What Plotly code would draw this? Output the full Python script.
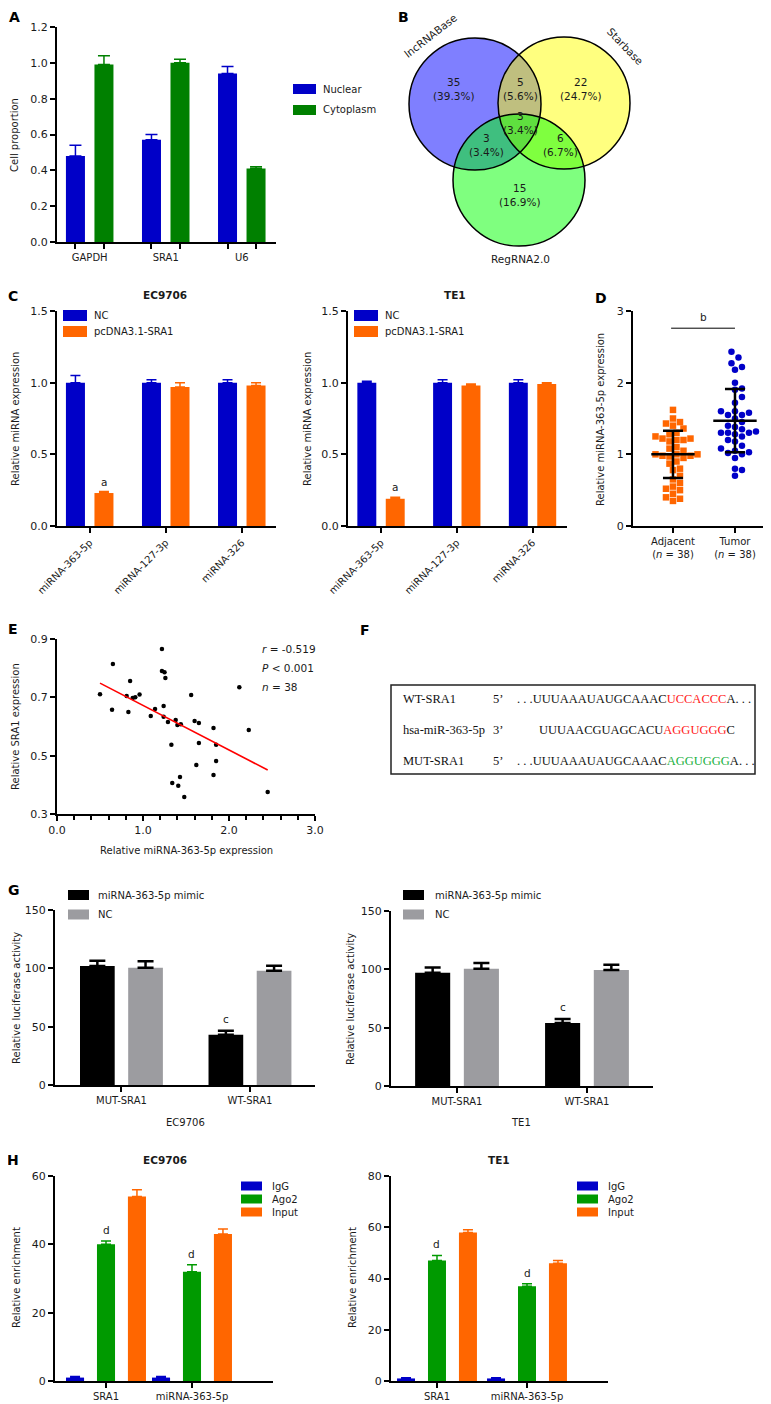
import numpy as np
import plotly.graph_objects as go

W, H = 771, 1404
SANS = "DejaVu Sans"
SERIF = "Liberation Serif"


def X(px):
    return px / W


def Y(py):
    return 1 - py / H


# ======================= DATA =======================
# A
a_categories = ["GAPDH", "SRA1", "U6"]
a_nuclear = [0.48, 0.57, 0.94]
a_nuclear_err = [0.06, 0.03, 0.04]
a_cytoplasm = [0.99, 1.00, 0.41]
a_cytoplasm_err = [0.05, 0.02, 0.01]

# B (Venn)
venn_sets = ["lncRNABase", "Starbase", "RegRNA2.0"]
venn_regions = ["L", "LS", "S", "LSR", "LR", "SR", "R"]
venn_counts = [35, 5, 22, 3, 3, 6, 15]
venn_percents = [39.3, 5.6, 24.7, 3.4, 3.4, 6.7, 16.9]

# C
c_categories = ["miRNA-363-5p", "miRNA-127-3p", "miRNA-326"]
c_series = ["NC", "pcDNA3.1-SRA1"]
c_ec_nc = [1.00, 1.00, 1.00]
c_ec_nc_err = [0.05, 0.02, 0.02]
c_ec_pc = [0.23, 0.97, 0.98]
c_ec_pc_err = [0.01, 0.03, 0.02]
c_te_nc = [1.00, 1.00, 1.00]
c_te_nc_err = [0.01, 0.02, 0.02]
c_te_pc = [0.19, 0.98, 0.99]
c_te_pc_err = [0.01, 0.01, 0.01]

# D
d_groups = ["Adjacent", "Tumor"]
d_adjacent = [1.62, 1.50, 1.45, 1.43, 1.40, 1.36, 1.30, 1.28, 1.25, 1.22,
              1.22, 1.20, 1.20, 1.18, 1.10, 1.08, 1.05, 1.00, 1.00, 1.00,
              0.98, 0.98, 0.97, 0.95, 0.90, 0.87, 0.80, 0.78, 0.70, 0.65,
              0.60, 0.55, 0.52, 0.50, 0.45, 0.40, 0.38, 0.35]
d_tumor = [2.43, 2.35, 2.27, 2.22, 2.18, 2.00, 1.92, 1.90, 1.80, 1.72,
           1.60, 1.60, 1.58, 1.55, 1.55, 1.50, 1.45, 1.40, 1.38, 1.35,
           1.32, 1.30, 1.30, 1.30, 1.28, 1.25, 1.20, 1.18, 1.12, 1.08,
           1.05, 1.03, 1.02, 1.00, 0.95, 0.80, 0.78, 0.70]
d_mean = [1.00, 1.47]
d_sd = [0.33, 0.44]
d_sig_y = 2.76

# E
e_mir = [0.50, 0.65, 0.85, 0.81, 0.88, 0.91, 0.96, 1.22, 1.22, 1.25,
         1.26, 1.56, 2.12, 0.64, 0.83, 1.14, 1.24, 1.09, 1.24, 1.29,
         1.38, 1.40, 1.44, 1.60, 1.65, 1.82, 2.23, 1.33, 1.65, 1.85,
         1.62, 1.85, 1.82, 1.43, 1.34, 1.41, 1.48, 2.45]
e_sra1 = [0.711, 0.814, 0.756, 0.705, 0.698, 0.700, 0.710, 0.866, 0.790, 0.786,
          0.766, 0.708, 0.735, 0.657, 0.650, 0.660, 0.670, 0.636, 0.633, 0.615,
          0.622, 0.605, 0.608, 0.619, 0.612, 0.595, 0.588, 0.537, 0.543, 0.537,
          0.468, 0.482, 0.434, 0.427, 0.406, 0.397, 0.358, 0.375]
e_fit_slope = -0.1528
e_fit_intercept = 0.825
e_stats = ["<i>r</i> = -0.519", "<i>P</i> < 0.001", "<i>n</i> = 38"]

# F
f_labels = ["WT-SRA1", "hsa-miR-363-5p", "MUT-SRA1"]
f_ends = ["5’", "3’", "5’"]
f_prefix = [". . .UUUAAAUAUGCAAAC", "UUUAACGUAGCACU", ". . .UUUAAAUAUGCAAAC"]
f_site = ["UCCACCC", "AGGUGGG", "AGGUGGG"]
f_suffix = ["A. . .", "C", "A. . ."]
f_site_colors = ["#FF2020", "#FF2020", "#20B040"]

# G
g_categories = ["MUT-SRA1", "WT-SRA1"]
g_series = ["miRNA-363-5p mimic", "NC"]
g_ec_mimic = [102, 43]
g_ec_mimic_err = [4.5, 3.4]
g_ec_nc = [100.5, 98]
g_ec_nc_err = [5.5, 4.3]
g_te_mimic = [97, 54]
g_te_mimic_err = [4.5, 3.5]
g_te_nc = [100.5, 99.5]
g_te_nc_err = [5.0, 4.5]

# H
h_categories = ["SRA1", "miRNA-363-5p"]
h_series = ["IgG", "Ago2", "Input"]
h_ec_igg = [1.0, 1.0]
h_ec_igg_err = [0.3, 0.3]
h_ec_ago2 = [40, 32]
h_ec_ago2_err = [1.0, 2.0]
h_ec_input = [54, 43]
h_ec_input_err = [2.0, 1.5]
h_te_igg = [1.0, 1.0]
h_te_igg_err = [0.3, 0.3]
h_te_ago2 = [47, 37]
h_te_ago2_err = [2.0, 1.0]
h_te_input = [58, 46]
h_te_input_err = [1.0, 1.0]

# ======================= STYLE =======================
BLUE = "#0000C8"
GREEN_A = "#008000"
GREEN_H = "#009A00"
ORANGE = "#FF6600"
GRAY = "#9C9CA0"
BLACK = "#000000"
TXT = "#1a1a1a"

fig = go.Figure()
shapes = []
annotations = []


def errbar(vals, color, w, th):
    return dict(type="data", array=list(vals), arrayminus=[0] * len(vals),
                symmetric=False, color=color, thickness=th, width=w, visible=True)


def add_bars(xa, ya, pos, vals, errs, color, width, ew, eth, ecolor=None):
    fig.add_trace(go.Bar(x=list(pos), y=vals, width=width,
                         marker=dict(color=color, line=dict(width=0)),
                         error_y=errbar(errs, ecolor or color, ew, eth),
                         xaxis=xa, yaxis=ya, showlegend=False, hoverinfo="skip"))


def text(xp, yp, t, size=10, bold=False, family=SANS, xanchor="center",
         yanchor="middle", angle=0, color=TXT):
    if bold:
        t = "<b>" + t + "</b>"
    annotations.append(dict(xref="paper", yref="paper", x=X(xp), y=Y(yp), text=t,
                            showarrow=False, xanchor=xanchor, yanchor=yanchor,
                            textangle=angle, font=dict(family=family, size=size, color=color)))


def legend_item(xb, yc, w, h, color, label, xt, size=10):
    shapes.append(dict(type="rect", xref="paper", yref="paper", x0=X(xb), x1=X(xb + w),
                       y0=Y(yc + h / 2), y1=Y(yc - h / 2), fillcolor=color, line=dict(width=0)))
    text(xt, yc, label, size=size, xanchor="left")


def ax(**kw):
    d = dict(showline=True, linecolor="black", linewidth=2, ticks="outside", ticklen=5,
             tickwidth=2, tickcolor="black", showgrid=False, zeroline=False,
             automargin=False, fixedrange=True,
             tickfont=dict(family=SANS, size=11, color=TXT))
    d.update(kw)
    return d


# ---------------- Panel A ----------------
a_pos = np.arange(len(a_categories))
A_OFF, A_W = 0.1875, 0.25
add_bars("x", "y", a_pos - A_OFF, a_nuclear, a_nuclear_err, BLUE, A_W, 6, 1.5)
add_bars("x", "y", a_pos + A_OFF, a_cytoplasm, a_cytoplasm_err, GREEN_A, A_W, 6, 1.5)
legend_item(285, 81, 23, 10, BLUE, "Nuclear", 313)
legend_item(285, 102, 23, 10, GREEN_A, "Cytoplasm", 313)
text(7, 127, "Cell proportion", angle=-90)

# ---------------- Panel B ----------------
venn_circles = {"L": (467, 96, 66, "rgb(0,0,255)"),
                "S": (556, 95, 66, "rgb(255,255,0)"),
                "R": (511, 172, 66, "rgb(0,255,0)")}
for key in ["L", "S", "R"]:
    cx, cy, r, col = venn_circles[key]
    shapes.append(dict(type="circle", xref="paper", yref="paper", x0=X(cx - r), x1=X(cx + r),
                       y0=Y(cy + r), y1=Y(cy - r), fillcolor=col, opacity=0.5,
                       line=dict(width=0), layer="above"))
for key in ["L", "S", "R"]:
    cx, cy, r, col = venn_circles[key]
    shapes.append(dict(type="circle", xref="paper", yref="paper", x0=X(cx - r), x1=X(cx + r),
                       y0=Y(cy + r), y1=Y(cy - r), fillcolor="rgba(0,0,0,0)",
                       line=dict(width=1.5, color="black"), layer="above"))
venn_text_pos = {"L": (446, 81), "LS": (512, 81), "S": (573, 81), "LSR": (512, 115),
                 "LR": (478, 137), "SR": (552, 137), "R": (512, 187)}
for reg, cnt, pct in zip(venn_regions, venn_counts, venn_percents):
    xp, yp = venn_text_pos[reg]
    text(xp, yp, f"{cnt}<br>({pct:.1f}%)", size=10.5)
text(422, 28, venn_sets[0], size=10.5, angle=-38)
text(617, 38, venn_sets[1], size=10.5, angle=46)
text(512, 251, venn_sets[2], size=10.5)

# ---------------- Panel C ----------------
c_pos = np.arange(len(c_categories))
add_bars("x2", "y2", c_pos - A_OFF, c_ec_nc, c_ec_nc_err, BLUE, A_W, 5, 1.5)
add_bars("x2", "y2", c_pos + A_OFF, c_ec_pc, c_ec_pc_err, ORANGE, A_W, 5, 1.5)
add_bars("x3", "y3", c_pos - A_OFF, c_te_nc, c_te_nc_err, BLUE, A_W, 5, 1.5)
add_bars("x3", "y3", c_pos + A_OFF, c_te_pc, c_te_pc_err, ORANGE, A_W, 5, 1.5)
for xa, ya, vals, errs in [("x2", "y2", c_ec_pc, c_ec_pc_err), ("x3", "y3", c_te_pc, c_te_pc_err)]:
    annotations.append(dict(xref=xa, yref=ya, x=c_pos[0] + A_OFF, y=vals[0] + errs[0], text="a",
                            showarrow=False, yanchor="bottom", yshift=2,
                            font=dict(family=SANS, size=10.5, color=TXT)))
legend_item(55, 307.5, 24, 11, BLUE, c_series[0], 84)
legend_item(55, 323.5, 24, 11, ORANGE, c_series[1], 84)
legend_item(346, 307.5, 24, 11, BLUE, c_series[0], 375)
legend_item(346, 323.5, 24, 11, ORANGE, c_series[1], 375)
text(157, 287, "EC9706", size=10.5, bold=True)
text(447, 287, "TE1", size=10.5, bold=True)
text(7, 411, "Relative miRNA expression", angle=-90)
text(299, 411, "Relative miRNA expression", angle=-90)


# ---------------- Panel D ----------------
def swarm(vals, y_ppu, x_ppu, step=7.0, mind=6.8):
    vals = np.asarray(vals, float)
    order = np.argsort(vals)
    placed = []
    offs = np.zeros(len(vals))
    cands = [0.0]
    for k in range(1, 30):
        cands += [k * step / 2, -k * step / 2]
    for i in order:
        yp = vals[i] * y_ppu
        for c in cands:
            if all((c - px) ** 2 + (yp - py) ** 2 >= mind ** 2 for px, py in placed):
                placed.append((c, yp))
                offs[i] = c / x_ppu
                break
    return offs


D_YPPU, D_XPPU = 215 / 3.0, 62.0
adj_off = swarm(d_adjacent, D_YPPU, D_XPPU)
tum_off = swarm(d_tumor, D_YPPU, D_XPPU)
fig.add_trace(go.Scatter(x=0 + adj_off, y=d_adjacent, mode="markers",
                         marker=dict(symbol="square", size=6.5, color=ORANGE),
                         xaxis="x4", yaxis="y4", showlegend=False, hoverinfo="skip"))
fig.add_trace(go.Scatter(x=1 + tum_off, y=d_tumor, mode="markers",
                         marker=dict(symbol="circle", size=6.5, color=BLUE),
                         xaxis="x4", yaxis="y4", showlegend=False, hoverinfo="skip"))
for gi, m in enumerate(d_mean):
    fig.add_trace(go.Scatter(x=[gi - 0.35, gi + 0.35], y=[m, m], mode="lines",
                             line=dict(color="black", width=2.5),
                             xaxis="x4", yaxis="y4", showlegend=False, hoverinfo="skip"))
fig.add_trace(go.Scatter(x=list(range(len(d_groups))), y=d_mean, mode="markers",
                         marker=dict(size=1, opacity=0),
                         error_y=dict(type="data", array=d_sd, color="black", thickness=2.5, width=10),
                         xaxis="x4", yaxis="y4", showlegend=False, hoverinfo="skip"))
shapes.append(dict(type="line", xref="x4", yref="y4", x0=-0.03, x1=1.0, y0=d_sig_y, y1=d_sig_y,
                   line=dict(color="black", width=1)))
annotations.append(dict(xref="x4", yref="y4", x=0.5, y=d_sig_y, text="b", showarrow=False,
                        yanchor="bottom", yshift=3, font=dict(family=SANS, size=10.5, color=TXT)))
text(593, 412, "Relative miRNA-363-5p expression", angle=-90)

# ---------------- Panel E ----------------
fig.add_trace(go.Scatter(x=e_mir, y=e_sra1, mode="markers",
                         marker=dict(size=4.5, color="black"),
                         xaxis="x5", yaxis="y5", showlegend=False, hoverinfo="skip"))
e_fit_x = np.array([min(e_mir), max(e_mir)])
fig.add_trace(go.Scatter(x=e_fit_x, y=e_fit_intercept + e_fit_slope * e_fit_x, mode="lines",
                         line=dict(color="#FF0000", width=1.6),
                         xaxis="x5", yaxis="y5", showlegend=False, hoverinfo="skip"))
for i, s in enumerate(e_stats):
    text(252, 641 + 19 * i, s, size=10.5, xanchor="left")
text(7, 719, "Relative SRA1 expression", angle=-90)
text(178, 842, "Relative miRNA-363-5p expression")

# ---------------- Panel F ----------------
shapes.append(dict(type="rect", xref="paper", yref="paper", x0=X(383), x1=X(747),
                   y0=Y(766), y1=Y(677), line=dict(color="#222", width=1.5),
                   fillcolor="rgba(0,0,0,0)"))
f_rows_y = [691, 722, 753]
f_seq_x = [507, 529, 507]
for i in range(3):
    text(393, f_rows_y[i], f_labels[i], size=12.5, family=SERIF, xanchor="left", color="#111")
    text(483, f_rows_y[i], f_ends[i], size=12.5, family=SERIF, xanchor="left", color="#111")
    seq = (f_prefix[i] + f"<span style='color:{f_site_colors[i]}'>" + f_site[i] + "</span>"
           + f_suffix[i])
    text(f_seq_x[i], f_rows_y[i], seq, size=12.5, family=SERIF, xanchor="left", color="#111")

# ---------------- Panel G ----------------
g_pos = np.arange(len(g_categories))
G_OFF, G_W = 0.1875, 0.27
add_bars("x6", "y6", g_pos - G_OFF, g_ec_mimic, g_ec_mimic_err, BLACK, G_W, 8, 2.5)
add_bars("x6", "y6", g_pos + G_OFF, g_ec_nc, g_ec_nc_err, GRAY, G_W, 8, 2.5, ecolor=BLACK)
add_bars("x7", "y7", g_pos - G_OFF, g_te_mimic, g_te_mimic_err, BLACK, G_W, 8, 2.5)
add_bars("x7", "y7", g_pos + G_OFF, g_te_nc, g_te_nc_err, GRAY, G_W, 8, 2.5, ecolor=BLACK)
for xa, ya, vals, errs in [("x6", "y6", g_ec_mimic, g_ec_mimic_err), ("x7", "y7", g_te_mimic, g_te_mimic_err)]:
    annotations.append(dict(xref=xa, yref=ya, x=g_pos[1] - G_OFF, y=vals[1] + errs[1], text="c",
                            showarrow=False, yanchor="bottom", yshift=4,
                            font=dict(family=SANS, size=10.5, color=TXT)))
legend_item(60, 887, 21, 10, BLACK, g_series[0], 88)
legend_item(60, 906.5, 21, 10, GRAY, g_series[1], 88)
legend_item(395, 887, 21, 10, BLACK, g_series[0], 425)
legend_item(395, 906.5, 21, 10, GRAY, g_series[1], 425)
text(8, 990, "Relative luciferase activity", angle=-90)
text(342, 991, "Relative luciferase activity", angle=-90)
text(177, 1114, "EC9706")
text(513, 1114, "TE1")

# ---------------- Panel H ----------------
h_pos = np.arange(len(h_categories))
H1_OFF, H1_W = 0.36, 0.21
H2_OFF, H2_W = 0.344, 0.20
add_bars("x8", "y8", h_pos - H1_OFF, h_ec_igg, h_ec_igg_err, BLUE, H1_W, 5, 1.5)
add_bars("x8", "y8", h_pos, h_ec_ago2, h_ec_ago2_err, GREEN_H, H1_W, 5, 1.5)
add_bars("x8", "y8", h_pos + H1_OFF, h_ec_input, h_ec_input_err, ORANGE, H1_W, 5, 1.5)
add_bars("x9", "y9", h_pos - H2_OFF, h_te_igg, h_te_igg_err, BLUE, H2_W, 5, 1.5)
add_bars("x9", "y9", h_pos, h_te_ago2, h_te_ago2_err, GREEN_H, H2_W, 5, 1.5)
add_bars("x9", "y9", h_pos + H2_OFF, h_te_input, h_te_input_err, ORANGE, H2_W, 5, 1.5)
for xa, ya, vals, errs in [("x8", "y8", h_ec_ago2, h_ec_ago2_err), ("x9", "y9", h_te_ago2, h_te_ago2_err)]:
    for k in range(len(h_categories)):
        annotations.append(dict(xref=xa, yref=ya, x=h_pos[k], y=vals[k] + errs[k], text="d",
                                showarrow=False, yanchor="bottom", yshift=3,
                                font=dict(family=SANS, size=10.5, color=TXT)))
for i, (lab, col) in enumerate(zip(h_series, [BLUE, GREEN_H, ORANGE])):
    legend_item(233, 1178 + 13 * i, 21, 9, col, lab, 262)
    legend_item(569, 1178 + 13 * i, 21, 9, col, lab, 598)
text(157, 1152, "EC9706", size=10.5, bold=True)
text(491, 1152, "TE1", size=10.5, bold=True)
text(8, 1270, "Relative enrichment", angle=-90)
text(344, 1270, "Relative enrichment", angle=-90)

# ---------------- Panel letters ----------------
for letter, xp, yp in [("A", 6, 9), ("B", 396, 9), ("C", 5, 288), ("D", 593, 290),
                       ("E", 5, 621), ("F", 357, 622), ("G", 6, 882), ("H", 5, 1152)]:
    text(xp, yp, letter, size=14, bold=True, color="black")

# ---------------- Layout ----------------
bar_ticks_3 = sorted(list(a_pos - A_OFF) + list(a_pos + A_OFF))
layout_axes = dict(
    xaxis=ax(domain=[X(49), X(268)], range=[-0.43, 2.45], anchor="y",
             tickvals=list(a_pos), ticktext=a_categories, tickcolor="rgba(0,0,0,0)",
             tickfont=dict(family=SANS, size=10, color=TXT),
             minor=dict(tickmode="array", tickvals=bar_ticks_3, ticks="outside",
                        ticklen=5, tickwidth=2, tickcolor="black")),
    yaxis=ax(domain=[Y(234), Y(19)], range=[0, 1.2], anchor="x", dtick=0.2, tick0=0,
             tickformat=".1f"),
    xaxis2=ax(domain=[X(49), X(268)], range=[-0.43, 2.45], anchor="y2",
              tickvals=list(c_pos), ticktext=c_categories, tickangle=-45,
              tickfont=dict(family=SANS, size=10, color=TXT)),
    yaxis2=ax(domain=[Y(518), Y(303)], range=[0, 1.5], anchor="x2", dtick=0.5, tick0=0,
              tickformat=".1f"),
    xaxis3=ax(domain=[X(340), X(559)], range=[-0.436, 2.455], anchor="y3",
              tickvals=list(c_pos), ticktext=c_categories, tickangle=-45,
              tickfont=dict(family=SANS, size=10, color=TXT)),
    yaxis3=ax(domain=[Y(518), Y(303)], range=[0, 1.5], anchor="x3", dtick=0.5, tick0=0,
              tickformat=".1f"),
    xaxis4=ax(domain=[X(625), X(762)], range=[-0.645, 1.565], anchor="y4",
              tickvals=[0, 1], ticktext=[g + "<br>(<i>n</i> = 38)" for g in d_groups],
              tickfont=dict(family=SANS, size=10, color=TXT)),
    yaxis4=ax(domain=[Y(518), Y(303)], range=[0, 3], anchor="x4", dtick=1, tick0=0),
    xaxis5=ax(domain=[X(49), X(307)], range=[0, 3], anchor="y5",
              tickvals=[0, 1, 2, 3], ticktext=["0.0", "1.0", "2.0", "3.0"],
              minor=dict(tickmode="linear", tick0=0, dtick=0.2, ticks="outside",
                         ticklen=4, tickwidth=2, tickcolor="black")),
    yaxis5=ax(domain=[Y(806), Y(631)], range=[0.3, 0.9], anchor="x5",
              tickvals=[0.3, 0.5, 0.7, 0.9], ticktext=["0.3", "0.5", "0.7", "0.9"]),
    xaxis6=ax(domain=[X(47), X(307)], range=[-0.517, 1.506], anchor="y6",
              tickvals=list(g_pos), ticktext=g_categories,
              tickfont=dict(family=SANS, size=10, color=TXT)),
    yaxis6=ax(domain=[Y(1077), Y(902)], range=[0, 150], anchor="x6", dtick=50, tick0=0),
    xaxis7=ax(domain=[X(383), X(645)], range=[-0.508, 1.508], anchor="y7",
              tickvals=list(g_pos), ticktext=g_categories,
              tickfont=dict(family=SANS, size=10, color=TXT)),
    yaxis7=ax(domain=[Y(1078), Y(903)], range=[0, 150], anchor="x7", dtick=50, tick0=0),
    xaxis8=ax(domain=[X(47), X(265)], range=[-0.593, 1.942], anchor="y8",
              tickvals=list(h_pos), ticktext=h_categories,
              tickfont=dict(family=SANS, size=10, color=TXT)),
    yaxis8=ax(domain=[Y(1373), Y(1168)], range=[0, 60], anchor="x8", dtick=20, tick0=0),
    xaxis9=ax(domain=[X(383), X(600)], range=[-0.511, 1.9], anchor="y9",
              tickvals=list(h_pos), ticktext=h_categories,
              tickfont=dict(family=SANS, size=10, color=TXT)),
    yaxis9=ax(domain=[Y(1373), Y(1168)], range=[0, 80], anchor="x9", dtick=20, tick0=0),
)

fig.update_layout(
    width=W, height=H,
    margin=dict(l=0, r=0, t=0, b=0),
    paper_bgcolor="white", plot_bgcolor="white",
    showlegend=False, barmode="overlay",
    font=dict(family=SANS, size=10, color=TXT),
    shapes=shapes, annotations=annotations,
    **layout_axes,
)

fig.write_html("out.html")
